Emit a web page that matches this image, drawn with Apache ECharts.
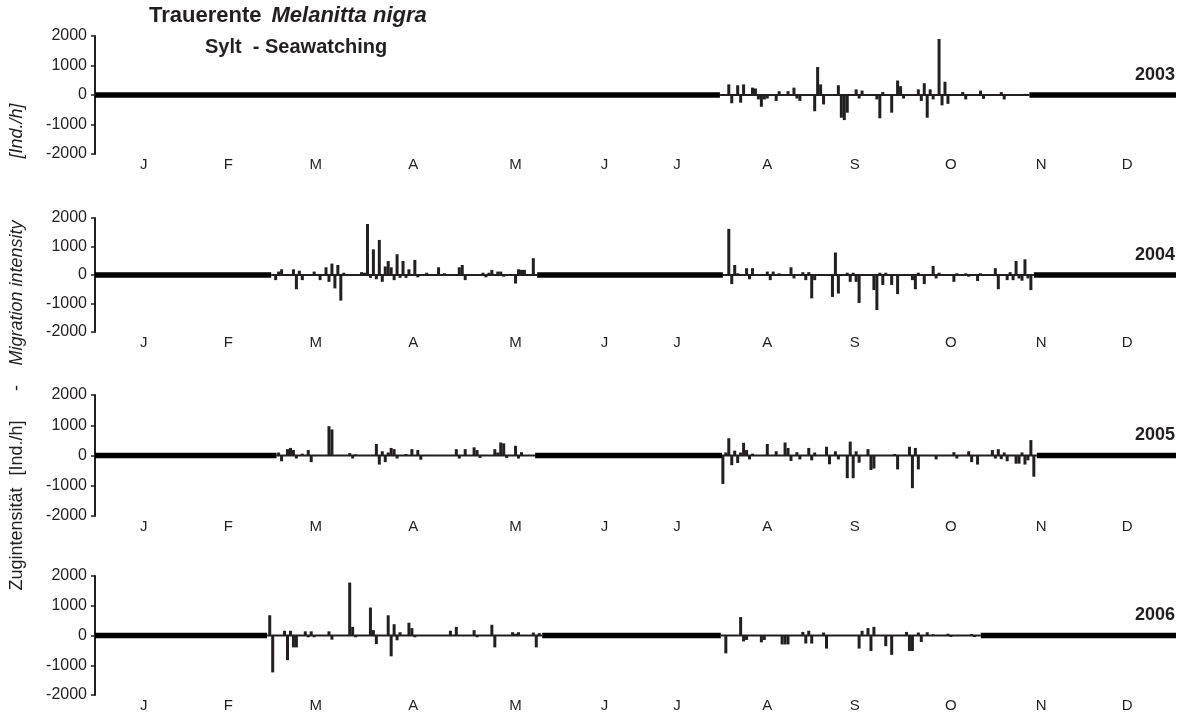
<!DOCTYPE html>
<html><head><meta charset="utf-8">
<script src="https://cdn.jsdelivr.net/npm/echarts@6/dist/echarts.min.js"></script>
<style>html,body{margin:0;padding:0;background:#fff}#c{width:1186px;height:715px}</style>
</head><body><div id="c"></div>
<script>
// ---- data ----
const monthLabels = ['J','F','M','A','M','J','J','A','S','O','N','D'];
const monthPos = [16.5,45,74.5,107.5,142,172,196.5,227,256.5,289,319.5,348.5]; // day of year of each label
const yTicks = [-2000,-1000,0,1000,2000];
const years = ['2003','2004','2005','2006'];

// observation periods (day of year) -> thin zero line; elsewhere thick line
const obs2003 = [[211,315.5]];
const obs2004 = [[59.5,149.3],[212,317]];
const obs2005 = [[61.3,148.6],[211.7,318]];
const obs2006 = [[58.1,151],[211.3,299.1]];

// daily migration intensity [day of year, Ind./h]
const bars2003 = [[214,360],[215,-280],[217,330],[218,-260],[219,360],[222,250],[223,220],[224,-150],[225,-400],[226,-150],[227,-120],[230,-200],[231,130],[234,130],[236,250],[237,-120],[238,-200],[243,-550],[244,950],[245,360],[246,-320],[251,330],[252,-770],[253,-850],[254,-600],[257,190],[258,-120],[259,150],[264,-150],[265,-790],[266,100],[269,-600],[271,490],[272,300],[273,-120],[278,190],[279,-200],[280,400],[281,-770],[282,190],[283,-150],[285,1900],[286,-350],[287,450],[288,-300],[293,100],[294,-150],[299,150],[300,-130],[306,100],[307,-150],[314,40]];
const bars2004 = [[61,-180],[62,120],[63,200],[67,200],[68,-500],[69,150],[70,-180],[74,120],[76,-180],[78,270],[79,-240],[80,400],[81,-470],[82,350],[83,-900],[84,80],[90,100],[91,80],[92,1790],[93,-100],[94,900],[95,-150],[96,1230],[97,-240],[98,300],[99,490],[100,270],[101,-180],[102,730],[103,-100],[104,490],[105,-100],[106,200],[108,530],[109,-80],[112,80],[116,270],[118,60],[123,270],[124,350],[125,-180],[131,80],[132,-80],[133,80],[134,180],[136,120],[137,120],[138,-60],[142,-300],[143,200],[144,180],[145,180],[148,590],
  [214,1620],[215,-320],[216,350],[217,60],[220,240],[221,-150],[222,240],[227,120],[228,-180],[229,120],[231,60],[235,270],[236,-120],[239,100],[240,-180],[241,100],[242,-820],[243,-180],[249,-770],[250,790],[251,-650],[254,80],[255,-240],[256,80],[257,-240],[258,-980],[263,-530],[264,-1230],[265,80],[266,-350],[267,80],[269,-350],[271,-670],[276,-180],[277,-500],[278,80],[280,-320],[283,320],[284,-120],[285,80],[290,-240],[291,60],[294,60],[295,-60],[298,-210],[299,60],[304,240],[305,-500],[308,-180],[309,100],[310,-180],[311,490],[312,-120],[313,-200],[314,550],[315,-120],[316,-530]];
const bars2005 = [[62,100],[63,-190],[65,210],[66,250],[67,180],[68,-100],[70,60],[72,180],[73,-220],[79,970],[80,860],[86,80],[87,-100],[88,40],[95,380],[96,-300],[97,140],[98,-220],[99,100],[100,250],[101,210],[102,-100],[105,50],[107,210],[109,180],[110,-140],[122,210],[123,-100],[125,210],[128,270],[129,180],[130,-80],[135,210],[136,100],[137,430],[138,400],[139,-80],[142,320],[143,-100],[144,110],
  [212,-940],[213,100],[214,570],[215,-320],[216,160],[217,-250],[218,100],[219,420],[220,180],[221,-130],[222,60],[227,380],[230,140],[233,430],[234,250],[235,-180],[237,110],[238,-130],[241,250],[242,-160],[243,100],[247,290],[248,-290],[250,140],[251,-130],[254,-750],[255,460],[256,-750],[257,140],[258,-240],[261,210],[262,-480],[263,-430],[270,50],[271,-460],[275,290],[276,-1080],[277,250],[278,-460],[284,-130],[290,110],[291,-100],[295,140],[296,-220],[298,-300],[303,180],[304,-100],[305,210],[306,-120],[307,100],[308,-190],[311,-270],[312,-270],[313,100],[314,-300],[315,-160],[316,510],[317,-700]];
const bars2006 = [[59,680],[60,-1240],[64,160],[65,-830],[66,160],[67,-400],[68,-400],[71,140],[72,-60],[73,140],[74,-60],[79,140],[80,-140],[86,1780],[87,290],[88,-60],[93,940],[94,180],[95,-290],[99,680],[100,-700],[101,380],[102,-160],[103,110],[106,430],[107,250],[108,-60],[120,160],[122,290],[128,180],[129,-60],[134,360],[135,-400],[141,110],[142,60],[143,110],[148,100],[149,-400],[150,80],
  [213,-600],[218,620],[219,-200],[220,-150],[225,-230],[226,-150],[232,-300],[233,-300],[234,-300],[239,120],[240,-270],[241,160],[242,-270],[246,100],[247,-440],[258,-440],[259,160],[261,250],[262,-520],[263,290],[267,-360],[269,-650],[274,120],[275,-520],[276,-520],[278,100],[279,-220],[281,110],[283,40],[288,60],[289,-50],[296,50],[297,-50]];

const yNameParts = ['Zugintensität', '[Ind./h]', '-', 'Migration intensity', '[Ind./h]'];
const yNameItalic = [false, false, false, true, true];

const allObs = [obs2003, obs2004, obs2005, obs2006];
const allBars = [bars2003, bars2004, bars2005, bars2006];

// ---- layout ----
const FONT = 'Liberation Sans, Arial, Helvetica, sans-serif';
const INK = '#231f20';
const panels = [{top:36,h:118},{top:218,h:114},{top:395,h:121},{top:576,h:119}];
const LEFT = 95, RIGHT = 10;
const yNameY = [539, 448, 388, 293, 131];

const grid = [], xAxis = [], yAxis = [], series = [], titles = [];
titles.push({
  text: '{b|Trauerente}  {i|Melanitta nigra}', left: 144, top: 0,
  textStyle: { rich: {
    b: { fontFamily: FONT, fontSize: 22, fontWeight: 'bold', color: INK },
    i: { fontFamily: FONT, fontSize: 22, fontStyle: 'italic', color: INK } } }
});
titles.push({ text: 'Sylt  - Seawatching', left: 200, top: 32,
  textStyle: { fontFamily: FONT, fontSize: 20, fontWeight: 'bold', color: INK } });

panels.forEach((p, i) => {
  grid.push({ left: LEFT, right: RIGHT, top: p.top, height: p.h, containLabel: false });
  xAxis.push({ gridIndex: i, type: 'value', min: 0, max: 365,
    axisLine: { show: false, onZero: false }, axisTick: { show: false }, splitLine: { show: false },
    axisLabel: { customValues: monthPos, margin: 3, fontFamily: FONT, fontSize: 15, color: INK,
      formatter: v => { const k = monthPos.indexOf(v); return k >= 0 ? monthLabels[k] : ''; } } });
  yAxis.push({ gridIndex: i, type: 'value', min: yTicks[0], max: yTicks[yTicks.length-1], interval: 1000,
    axisLine: { show: true, onZero: false, lineStyle: { color: INK, width: 2 } },
    axisTick: { show: true, length: 4, lineStyle: { color: INK, width: 1.5 } },
    splitLine: { show: false },
    axisLabel: { margin: 8, fontFamily: FONT, fontSize: 16, color: INK, formatter: v => String(v) } });
  const obs = allObs[i];
  obs.forEach(seg => series.push({ type: 'line', xAxisIndex: i, yAxisIndex: i, data: [[seg[0],0],[seg[1],0]],
    symbol: 'none', silent: true, lineStyle: { color: INK, width: 1.8 }, z: 1, animation: false }));
  let prev = 0;
  const gaps = [];
  obs.forEach(seg => { gaps.push([prev, seg[0]]); prev = seg[1]; });
  gaps.push([prev, 365]);
  gaps.forEach(g => series.push({ type: 'line', xAxisIndex: i, yAxisIndex: i, data: [[g[0],0],[g[1],0]],
    symbol: 'none', silent: true, lineStyle: { color: '#000', width: 5.5, cap: 'butt' }, z: 3, animation: false }));
  series.push({ type: 'bar', xAxisIndex: i, yAxisIndex: i, data: allBars[i], barWidth: 3,
    itemStyle: { color: INK }, z: 2, animation: false });
  titles.push({ text: years[i], right: 6, top: p.top + p.h/2 - 34,
    textStyle: { fontFamily: FONT, fontSize: 18, fontWeight: 'bold', color: INK } });
});

const graphic = yNameParts.map((t, k) => ({ type: 'text', x: 17, y: yNameY[k], rotation: Math.PI/2,
  style: { text: t, font: (yNameItalic[k] ? 'italic ' : '') + '18px ' + FONT, fill: INK,
    align: 'center', verticalAlign: 'middle' } }));

const chart = echarts.init(document.getElementById('c'), null, { renderer: 'canvas' });
chart.setOption({
  animation: false,
  backgroundColor: '#fff',
  title: titles, grid, xAxis, yAxis, series, graphic
});
</script></body></html>
